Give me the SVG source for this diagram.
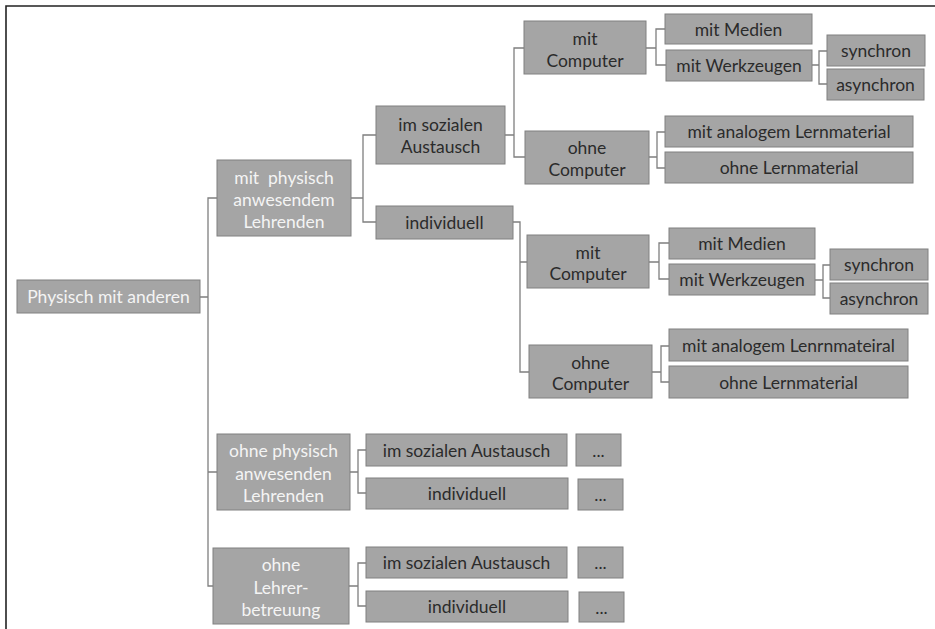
<svg xmlns="http://www.w3.org/2000/svg" width="935" height="629" viewBox="0 0 935 629">
  <style>
    .box { fill: #a5a5a5; stroke: #808080; stroke-width: 1; }
    text { font-family: Lato, "Open Sans", "Liberation Sans", sans-serif; font-size: 17.5px; text-anchor: middle; dominant-baseline: central; }
    .light { fill: #f4f4f4; }
    .dark { fill: #2b2b2b; }
    .conn { fill: none; stroke: #7f7f7f; stroke-width: 1.3; }
    .frame { fill: none; stroke: #222; stroke-width: 1.6; }
  </style>

  <!-- page frame -->
  <path class="frame" d="M935 6 H6 V629"/>

  <!-- connectors -->
  <g id="connectors">
    <!-- root to level 1 -->
    <path class="conn" d="M200 297 H208 M217 198 H208 V586 H213 M208 472 H217"/>
    <!-- mit physisch anwesendem Lehrenden -->
    <path class="conn" d="M351 198 H363 M376 135 H363 V222 H376"/>
    <!-- im sozialen Austausch -->
    <path class="conn" d="M505 135 H514 M524 48 H514 V157 H525"/>
    <!-- mit Computer (upper) -->
    <path class="conn" d="M646 48 H656 M665 29 H656 V65 H666"/>
    <!-- mit Werkzeugen (upper) -->
    <path class="conn" d="M812 65 H819 M827 51 H819 V84 H827"/>
    <!-- ohne Computer (upper) -->
    <path class="conn" d="M649 157 H657 M665 132 H657 V168 H665"/>
    <!-- individuell -->
    <path class="conn" d="M513 222 H520 V372 H529 M520 262 H527"/>
    <!-- mit Computer (lower) -->
    <path class="conn" d="M649 262 H659 M669 243 H659 V279 H669"/>
    <!-- mit Werkzeugen (lower) -->
    <path class="conn" d="M815 280 H823 M830 265 H823 V298 H830"/>
    <!-- ohne Computer (lower) -->
    <path class="conn" d="M652 372 H661 M669 346 H661 V382 H669"/>
    <!-- ohne physisch anwesenden Lehrenden -->
    <path class="conn" d="M350 472 H358 M366 450 H358 V493 H366"/>
    <!-- ohne Lehrerbetreuung -->
    <path class="conn" d="M349 586 H358 M366 563 H358 V606 H366"/>
  </g>

  <!-- root -->
  <g id="n-root">
    <rect class="box" x="17" y="280" width="183" height="33"/>
    <text class="light" x="108.5" y="296.5">Physisch mit anderen</text>
  </g>

  <!-- level 1 -->
  <g id="n-mit-lehrenden">
    <rect class="box" x="217" y="160" width="134" height="76"/>
    <text class="light" x="284" y="177" xml:space="preserve">mit  physisch</text>
    <text class="light" x="284" y="199">anwesendem</text>
    <text class="light" x="284" y="221">Lehrenden</text>
  </g>
  <g id="n-ohne-lehrenden">
    <rect class="box" x="217" y="434" width="133" height="76"/>
    <text class="light" x="283.5" y="450">ohne physisch</text>
    <text class="light" x="283.5" y="473">anwesenden</text>
    <text class="light" x="283.5" y="495">Lehrenden</text>
  </g>
  <g id="n-ohne-betreuung">
    <rect class="box" x="213" y="548" width="136" height="76"/>
    <text class="light" x="281" y="564">ohne</text>
    <text class="light" x="281" y="587">Lehrer-</text>
    <text class="light" x="281" y="609">betreuung</text>
  </g>

  <!-- level 2 -->
  <g id="n-sozial-1">
    <rect class="box" x="376" y="106" width="129" height="58"/>
    <text class="dark" x="440.5" y="124">im sozialen</text>
    <text class="dark" x="440.5" y="146">Austausch</text>
  </g>
  <g id="n-indiv-1">
    <rect class="box" x="376" y="206" width="137" height="33"/>
    <text class="dark" x="444.5" y="222.5">individuell</text>
  </g>
  <g id="n-sozial-2">
    <rect class="box" x="366" y="434" width="201" height="32"/>
    <text class="dark" x="466.5" y="450">im sozialen Austausch</text>
  </g>
  <g id="n-indiv-2">
    <rect class="box" x="366" y="478" width="202" height="31"/>
    <text class="dark" x="467" y="493.5">individuell</text>
  </g>
  <g id="n-sozial-3">
    <rect class="box" x="366" y="547" width="201" height="31"/>
    <text class="dark" x="466.5" y="562.5">im sozialen Austausch</text>
  </g>
  <g id="n-indiv-3">
    <rect class="box" x="366" y="591" width="202" height="31"/>
    <text class="dark" x="467" y="606.5">individuell</text>
  </g>

  <!-- continuation boxes -->
  <g id="n-more-1">
    <rect class="box" x="576" y="434" width="45" height="32"/>
    <text class="dark" x="598.5" y="450">...</text>
  </g>
  <g id="n-more-2">
    <rect class="box" x="578" y="479" width="45" height="31"/>
    <text class="dark" x="600.5" y="494.5">...</text>
  </g>
  <g id="n-more-3">
    <rect class="box" x="578" y="547" width="45" height="31"/>
    <text class="dark" x="600.5" y="562.5">...</text>
  </g>
  <g id="n-more-4">
    <rect class="box" x="579" y="592" width="45" height="30"/>
    <text class="dark" x="601.5" y="607">...</text>
  </g>

  <!-- level 3 (under im sozialen Austausch) -->
  <g id="n-mit-comp-1">
    <rect class="box" x="524" y="21" width="122" height="53"/>
    <text class="dark" x="585" y="38">mit</text>
    <text class="dark" x="585" y="60">Computer</text>
  </g>
  <g id="n-ohne-comp-1">
    <rect class="box" x="525" y="131" width="124" height="53"/>
    <text class="dark" x="587" y="147">ohne</text>
    <text class="dark" x="587" y="169">Computer</text>
  </g>

  <!-- level 3 (under individuell) -->
  <g id="n-mit-comp-2">
    <rect class="box" x="527" y="235" width="122" height="53"/>
    <text class="dark" x="588" y="252">mit</text>
    <text class="dark" x="588" y="273">Computer</text>
  </g>
  <g id="n-ohne-comp-2">
    <rect class="box" x="529" y="345" width="123" height="53"/>
    <text class="dark" x="590.5" y="362">ohne</text>
    <text class="dark" x="590.5" y="383">Computer</text>
  </g>

  <!-- level 4 upper -->
  <g id="n-medien-1">
    <rect class="box" x="665" y="14" width="147" height="30"/>
    <text class="dark" x="738.5" y="29.5">mit Medien</text>
  </g>
  <g id="n-werkzeug-1">
    <rect class="box" x="666" y="50" width="146" height="31"/>
    <text class="dark" x="739" y="65.5">mit Werkzeugen</text>
  </g>
  <g id="n-sync-1">
    <rect class="box" x="827" y="35" width="98" height="31"/>
    <text class="dark" x="876" y="50.5">synchron</text>
  </g>
  <g id="n-async-1">
    <rect class="box" x="827" y="69" width="97" height="31"/>
    <text class="dark" x="875.5" y="84.5">asynchron</text>
  </g>
  <g id="n-analog-1">
    <rect class="box" x="665" y="116" width="248" height="31"/>
    <text class="dark" x="789" y="131.5">mit analogem Lernmaterial</text>
  </g>
  <g id="n-ohne-lern-1">
    <rect class="box" x="665" y="152" width="248" height="31"/>
    <text class="dark" x="789" y="167.5">ohne Lernmaterial</text>
  </g>

  <!-- level 4 lower -->
  <g id="n-medien-2">
    <rect class="box" x="669" y="228" width="146" height="31"/>
    <text class="dark" x="742" y="243.5">mit Medien</text>
  </g>
  <g id="n-werkzeug-2">
    <rect class="box" x="669" y="264" width="146" height="31"/>
    <text class="dark" x="742" y="279.5">mit Werkzeugen</text>
  </g>
  <g id="n-sync-2">
    <rect class="box" x="830" y="249" width="98" height="31"/>
    <text class="dark" x="879" y="264.5">synchron</text>
  </g>
  <g id="n-async-2">
    <rect class="box" x="830" y="283" width="98" height="31"/>
    <text class="dark" x="879" y="298.5">asynchron</text>
  </g>
  <g id="n-analog-2">
    <rect class="box" x="669" y="329" width="239" height="32"/>
    <text class="dark" x="788.5" y="345">mit analogem Lenrnmateiral</text>
  </g>
  <g id="n-ohne-lern-2">
    <rect class="box" x="669" y="366" width="239" height="32"/>
    <text class="dark" x="788.5" y="382">ohne Lernmaterial</text>
  </g>
</svg>
